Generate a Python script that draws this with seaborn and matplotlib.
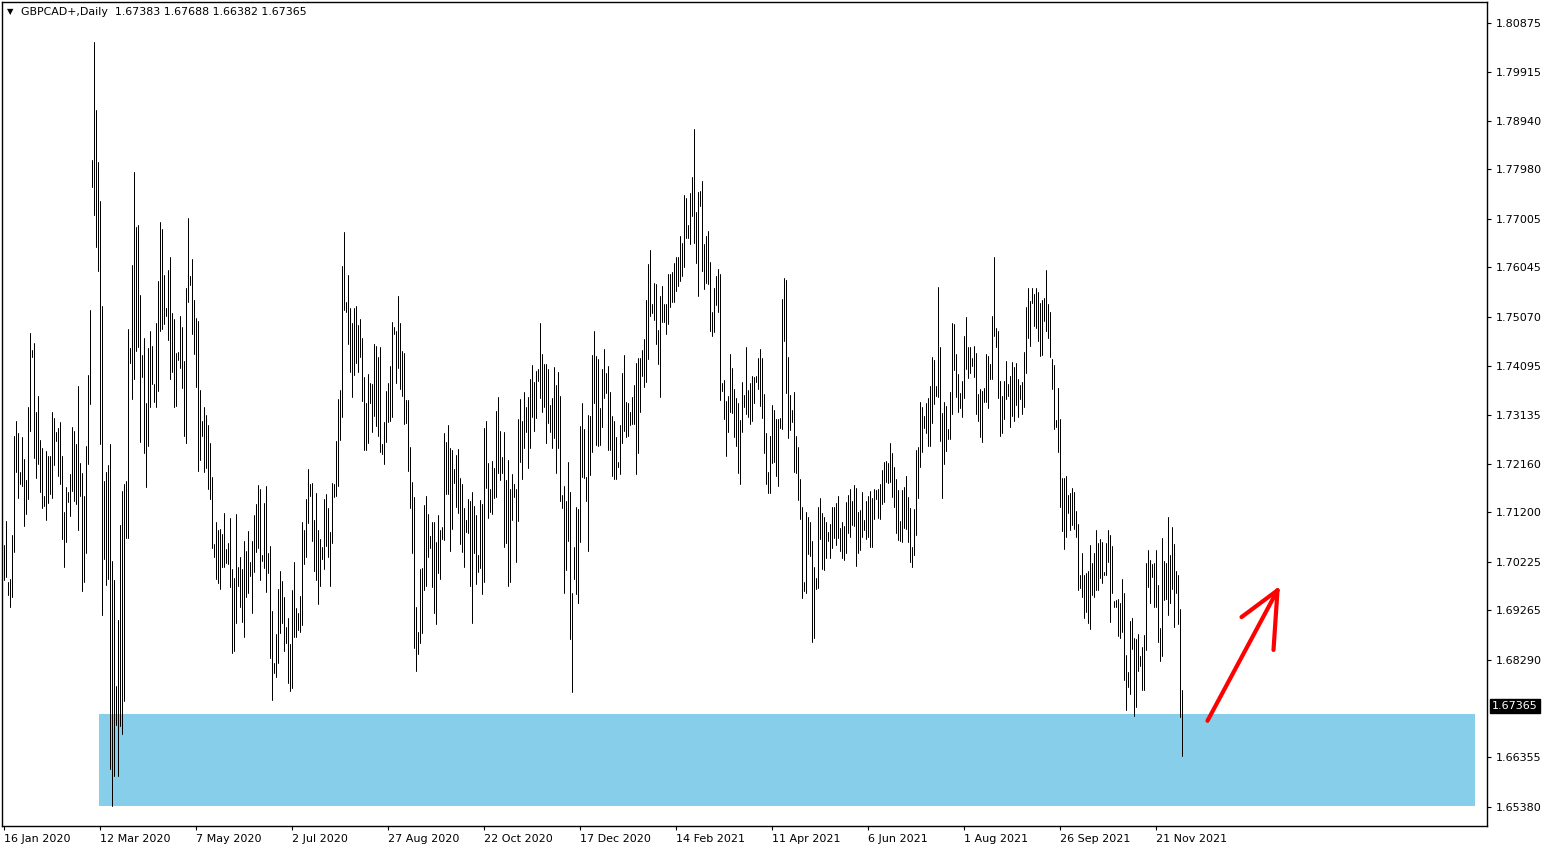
import numpy as np
import pandas as pd
import matplotlib
matplotlib.use("Agg")
import matplotlib.pyplot as plt
import matplotlib.transforms as mtransforms
import seaborn as sns
from matplotlib.patches import Rectangle

# ---------------- data ----------------
highs = [
    1.7056, 1.7103, 1.6982, 1.6988, 1.7075, 1.7271, 1.7300, 1.7277, 1.7200, 1.7269,
    1.7225, 1.7184, 1.7328, 1.7474, 1.7441, 1.7455, 1.7318, 1.7350, 1.7263, 1.7247,
    1.7152, 1.7241, 1.7231, 1.7231, 1.7318, 1.7306, 1.7279, 1.7287, 1.7298, 1.7231,
    1.7121, 1.7170, 1.7160, 1.7196, 1.7289, 1.7281, 1.7255, 1.7370, 1.7217, 1.7198,
    1.7152, 1.7251, 1.7391, 1.7520, 1.7816, 1.8050, 1.7915, 1.7812, 1.7735, 1.7528,
    1.7182, 1.7200, 1.7213, 1.7255, 1.7024, 1.6986, 1.6777, 1.6907, 1.7095, 1.7162,
    1.7176, 1.7182, 1.7482, 1.7445, 1.7609, 1.7793, 1.7684, 1.7688, 1.7549, 1.7431,
    1.7464, 1.7336, 1.7445, 1.7478, 1.7449, 1.7374, 1.7494, 1.7577, 1.7694, 1.7680,
    1.7589, 1.7524, 1.7599, 1.7625, 1.7514, 1.7502, 1.7435, 1.7437, 1.7508, 1.7486,
    1.7419, 1.7563, 1.7702, 1.7587, 1.7621, 1.7540, 1.7504, 1.7498, 1.7362, 1.7300,
    1.7328, 1.7312, 1.7293, 1.7257, 1.7190, 1.7057, 1.7101, 1.7085, 1.7087, 1.7077,
    1.7119, 1.7047, 1.7059, 1.7109, 1.7008, 1.6990, 1.7117, 1.7012, 1.7032, 1.7008,
    1.7063, 1.7044, 1.7083, 1.7022, 1.7063, 1.7115, 1.7136, 1.7174, 1.7166, 1.7036,
    1.7138, 1.7172, 1.7040, 1.7053, 1.6925, 1.6822, 1.6879, 1.6968, 1.7004, 1.6984,
    1.6953, 1.6893, 1.6911, 1.6860, 1.6966, 1.7022, 1.6931, 1.6921, 1.6955, 1.7101,
    1.7085, 1.7146, 1.7206, 1.7176, 1.7178, 1.7105, 1.7158, 1.7085, 1.7067, 1.7051,
    1.7146, 1.7156, 1.7129, 1.7081, 1.7178, 1.7176, 1.7261, 1.7344, 1.7362, 1.7607,
    1.7674, 1.7536, 1.7589, 1.7524, 1.7494, 1.7524, 1.7528, 1.7490, 1.7502, 1.7464,
    1.7387, 1.7336, 1.7393, 1.7376, 1.7374, 1.7453, 1.7449, 1.7427, 1.7447, 1.7255,
    1.7298, 1.7360, 1.7376, 1.7409, 1.7496, 1.7486, 1.7478, 1.7547, 1.7494, 1.7439,
    1.7435, 1.7342, 1.7342, 1.7249, 1.7180, 1.7150, 1.6933, 1.6883, 1.7008, 1.7010,
    1.7134, 1.7152, 1.7117, 1.7073, 1.7101, 1.7101, 1.7061, 1.7115, 1.7085, 1.7091,
    1.7277, 1.7259, 1.7293, 1.7247, 1.7243, 1.7206, 1.7233, 1.7245, 1.7188, 1.7176,
    1.7129, 1.7105, 1.7146, 1.7142, 1.7160, 1.7133, 1.7115, 1.7036, 1.7144, 1.7136,
    1.7287, 1.7300, 1.7217, 1.7166, 1.7221, 1.7208, 1.7320, 1.7348, 1.7281, 1.7229,
    1.7279, 1.7184, 1.7223, 1.7166, 1.7196, 1.7176, 1.7166, 1.7304, 1.7344, 1.7300,
    1.7358, 1.7328, 1.7348, 1.7383, 1.7411, 1.7378, 1.7399, 1.7403, 1.7494, 1.7433,
    1.7413, 1.7413, 1.7403, 1.7332, 1.7346, 1.7407, 1.7372, 1.7397, 1.7350, 1.7154,
    1.7172, 1.7142, 1.7219, 1.7160, 1.6961, 1.7051, 1.7130, 1.7127, 1.7291, 1.7336,
    1.7285, 1.7190, 1.7312, 1.7310, 1.7431, 1.7478, 1.7429, 1.7423, 1.7326, 1.7403,
    1.7443, 1.7395, 1.7409, 1.7358, 1.7310, 1.7300, 1.7269, 1.7219, 1.7293, 1.7395,
    1.7431, 1.7338, 1.7336, 1.7318, 1.7348, 1.7372, 1.7415, 1.7425, 1.7425, 1.7441,
    1.7463, 1.7540, 1.7611, 1.7638, 1.7532, 1.7573, 1.7571, 1.7480, 1.7547, 1.7567,
    1.7532, 1.7532, 1.7591, 1.7591, 1.7595, 1.7613, 1.7625, 1.7625, 1.7666, 1.7652,
    1.7747, 1.7741, 1.7688, 1.7751, 1.7783, 1.7878, 1.7714, 1.7753, 1.7755, 1.7775,
    1.7650, 1.7666, 1.7676, 1.7615, 1.7516, 1.7563, 1.7587, 1.7601, 1.7591, 1.7376,
    1.7382, 1.7340, 1.7350, 1.7433, 1.7405, 1.7364, 1.7346, 1.7336, 1.7302, 1.7378,
    1.7352, 1.7447, 1.7362, 1.7376, 1.7389, 1.7387, 1.7389, 1.7425, 1.7443, 1.7425,
    1.7354, 1.7277, 1.7200, 1.7271, 1.7332, 1.7322, 1.7304, 1.7304, 1.7306, 1.7542,
    1.7583, 1.7579, 1.7427, 1.7352, 1.7322, 1.7358, 1.7271, 1.7249, 1.7186, 1.7130,
    1.6982, 1.7121, 1.7111, 1.7101, 1.7063, 1.7012, 1.6990, 1.7131, 1.7148, 1.7119,
    1.7111, 1.7101, 1.7081, 1.7097, 1.7131, 1.7130, 1.7138, 1.7152, 1.7089, 1.7101,
    1.7093, 1.7140, 1.7154, 1.7166, 1.7142, 1.7174, 1.7168, 1.7121, 1.7125, 1.7160,
    1.7105, 1.7142, 1.7152, 1.7162, 1.7148, 1.7166, 1.7164, 1.7166, 1.7176, 1.7204,
    1.7219, 1.7221, 1.7217, 1.7257, 1.7237, 1.7209, 1.7186, 1.7164, 1.7103, 1.7164,
    1.7170, 1.7192, 1.7150, 1.7129, 1.7051, 1.7127, 1.7243, 1.7249, 1.7338, 1.7328,
    1.7310, 1.7336, 1.7346, 1.7370, 1.7427, 1.7421, 1.7370, 1.7565, 1.7447, 1.7316,
    1.7338, 1.7330, 1.7285, 1.7358, 1.7494, 1.7492, 1.7433, 1.7393, 1.7356, 1.7380,
    1.7468, 1.7506, 1.7447, 1.7447, 1.7425, 1.7449, 1.7435, 1.7354, 1.7364, 1.7360,
    1.7366, 1.7433, 1.7429, 1.7413, 1.7508, 1.7625, 1.7484, 1.7478, 1.7380, 1.7350,
    1.7380, 1.7419, 1.7374, 1.7389, 1.7417, 1.7407, 1.7415, 1.7383, 1.7372, 1.7378,
    1.7437, 1.7526, 1.7563, 1.7538, 1.7563, 1.7551, 1.7563, 1.7555, 1.7534, 1.7540,
    1.7544, 1.7599, 1.7532, 1.7516, 1.7423, 1.7411, 1.7302, 1.7366, 1.7304, 1.7188,
    1.7188, 1.7192, 1.7154, 1.7158, 1.7168, 1.7160, 1.7123, 1.7097, 1.6996, 1.7040,
    1.6996, 1.7000, 1.7004, 1.7056, 1.7020, 1.7040, 1.7085, 1.7059, 1.7067, 1.7061,
    1.7002, 1.7059, 1.7085, 1.7075, 1.7053, 1.6945, 1.6947, 1.6949, 1.6941, 1.6988,
    1.6961, 1.6838, 1.6804, 1.6905, 1.6911, 1.6872, 1.6870, 1.6879, 1.6836, 1.6854,
    1.6878, 1.7020, 1.7045, 1.7026, 1.7018, 1.7020, 1.7045, 1.6976, 1.6891, 1.7069,
    1.7024, 1.7020, 1.7111, 1.7036, 1.7091, 1.7057, 1.7004, 1.6996, 1.6929, 1.67688,
]

lows = [
    1.6986, 1.6992, 1.6957, 1.6933, 1.6953, 1.7042, 1.7200, 1.7148, 1.7176, 1.7172,
    1.7093, 1.7117, 1.7146, 1.7281, 1.7427, 1.7227, 1.7188, 1.7215, 1.7160, 1.7129,
    1.7132, 1.7105, 1.7138, 1.7156, 1.7148, 1.7213, 1.7261, 1.7192, 1.7176, 1.7067,
    1.7012, 1.7061, 1.7140, 1.7113, 1.7162, 1.7142, 1.7136, 1.7085, 1.7152, 1.6964,
    1.6982, 1.7040, 1.7215, 1.7334, 1.7763, 1.7708, 1.7644, 1.7597, 1.7255, 1.6917,
    1.7028, 1.6976, 1.6988, 1.6613, 1.6540, 1.6599, 1.6700, 1.6599, 1.6698, 1.6682,
    1.6747, 1.7069, 1.7069, 1.7415, 1.7344, 1.7383, 1.7439, 1.7447, 1.7259, 1.7387,
    1.7237, 1.7170, 1.7251, 1.7328, 1.7374, 1.7338, 1.7328, 1.7360, 1.7478, 1.7482,
    1.7492, 1.7508, 1.7461, 1.7383, 1.7397, 1.7328, 1.7330, 1.7421, 1.7405, 1.7366,
    1.7271, 1.7257, 1.7536, 1.7569, 1.7472, 1.7433, 1.7368, 1.7202, 1.7223, 1.7271,
    1.7200, 1.7208, 1.7166, 1.7146, 1.7049, 1.7032, 1.6988, 1.6980, 1.6968, 1.7012,
    1.7012, 1.7020, 1.7018, 1.6972, 1.6842, 1.6846, 1.6901, 1.6974, 1.6933, 1.6903,
    1.6874, 1.6953, 1.6961, 1.6994, 1.6921, 1.7002, 1.7042, 1.7049, 1.6986, 1.7024,
    1.7010, 1.6962, 1.7000, 1.6832, 1.6749, 1.6802, 1.6794, 1.6822, 1.6881, 1.6901,
    1.6846, 1.6862, 1.6783, 1.6767, 1.6773, 1.6874, 1.6874, 1.6887, 1.6883, 1.6897,
    1.7018, 1.7032, 1.7099, 1.7152, 1.7063, 1.7004, 1.6986, 1.6939, 1.6974, 1.7028,
    1.7008, 1.7053, 1.7032, 1.6974, 1.7059, 1.7150, 1.7152, 1.7172, 1.7263, 1.7308,
    1.7520, 1.7516, 1.7453, 1.7397, 1.7348, 1.7391, 1.7415, 1.7397, 1.7427, 1.7340,
    1.7243, 1.7243, 1.7257, 1.7336, 1.7279, 1.7310, 1.7291, 1.7271, 1.7239, 1.7235,
    1.7215, 1.7259, 1.7298, 1.7300, 1.7308, 1.7472, 1.7376, 1.7405, 1.7364, 1.7350,
    1.7295, 1.7297, 1.7202, 1.7129, 1.7040, 1.6852, 1.6806, 1.6840, 1.6862, 1.6881,
    1.6966, 1.6974, 1.7032, 1.7049, 1.6972, 1.6921, 1.6899, 1.7000, 1.6988, 1.7067,
    1.7065, 1.7156, 1.7156, 1.7044, 1.7087, 1.7178, 1.7130, 1.7119, 1.7057, 1.7042,
    1.7012, 1.7081, 1.7079, 1.6974, 1.6901, 1.7040, 1.6978, 1.7002, 1.7010, 1.6959,
    1.6982, 1.7168, 1.7109, 1.7121, 1.7117, 1.7148, 1.7150, 1.7198, 1.7184, 1.7198,
    1.7051, 1.7059, 1.6974, 1.6982, 1.7105, 1.7150, 1.7022, 1.7103, 1.7219, 1.7186,
    1.7247, 1.7279, 1.7208, 1.7247, 1.7308, 1.7281, 1.7306, 1.7380, 1.7346, 1.7318,
    1.7328, 1.7257, 1.7297, 1.7279, 1.7247, 1.7267, 1.7198, 1.7247, 1.7142, 1.7129,
    1.6961, 1.7006, 1.7063, 1.6870, 1.6765, 1.6988, 1.6959, 1.6941, 1.7061, 1.7190,
    1.7188, 1.7142, 1.7044, 1.7194, 1.7239, 1.7336, 1.7253, 1.7251, 1.7253, 1.7289,
    1.7346, 1.7356, 1.7243, 1.7243, 1.7192, 1.7186, 1.7186, 1.7209, 1.7196, 1.7257,
    1.7281, 1.7269, 1.7271, 1.7293, 1.7295, 1.7295, 1.7196, 1.7237, 1.7318, 1.7389,
    1.7368, 1.7378, 1.7423, 1.7508, 1.7514, 1.7500, 1.7453, 1.7413, 1.7348, 1.7496,
    1.7496, 1.7472, 1.7492, 1.7526, 1.7536, 1.7536, 1.7557, 1.7567, 1.7577, 1.7587,
    1.7605, 1.7662, 1.7662, 1.7650, 1.7706, 1.7652, 1.7613, 1.7547, 1.7725, 1.7597,
    1.7561, 1.7573, 1.7571, 1.7478, 1.7468, 1.7476, 1.7530, 1.7516, 1.7342, 1.7360,
    1.7304, 1.7231, 1.7279, 1.7318, 1.7316, 1.7269, 1.7251, 1.7198, 1.7176, 1.7279,
    1.7328, 1.7314, 1.7308, 1.7295, 1.7300, 1.7336, 1.7378, 1.7364, 1.7330, 1.7306,
    1.7237, 1.7176, 1.7158, 1.7158, 1.7217, 1.7219, 1.7192, 1.7172, 1.7287, 1.7285,
    1.7459, 1.7356, 1.7267, 1.7283, 1.7298, 1.7200, 1.7198, 1.7144, 1.7107, 1.6951,
    1.6964, 1.6961, 1.7038, 1.7034, 1.6864, 1.6872, 1.6968, 1.6970, 1.7067, 1.7008,
    1.7006, 1.7030, 1.7063, 1.7030, 1.7049, 1.7069, 1.7055, 1.7069, 1.7044, 1.7030,
    1.7026, 1.7040, 1.7079, 1.7071, 1.7095, 1.7093, 1.7014, 1.7040, 1.7046, 1.7071,
    1.7085, 1.7067, 1.7071, 1.7051, 1.7051, 1.7107, 1.7146, 1.7109, 1.7107, 1.7136,
    1.7140, 1.7180, 1.7178, 1.7180, 1.7150, 1.7130, 1.7079, 1.7065, 1.7063, 1.7061,
    1.7089, 1.7087, 1.7061, 1.7022, 1.7012, 1.7036, 1.7075, 1.7148, 1.7209, 1.7239,
    1.7287, 1.7277, 1.7251, 1.7251, 1.7297, 1.7334, 1.7350, 1.7348, 1.7261, 1.7148,
    1.7215, 1.7241, 1.7265, 1.7265, 1.7314, 1.7401, 1.7348, 1.7318, 1.7326, 1.7308,
    1.7346, 1.7403, 1.7385, 1.7395, 1.7409, 1.7387, 1.7314, 1.7300, 1.7269, 1.7259,
    1.7338, 1.7338, 1.7326, 1.7383, 1.7383, 1.7468, 1.7447, 1.7346, 1.7271, 1.7277,
    1.7304, 1.7344, 1.7350, 1.7289, 1.7310, 1.7300, 1.7332, 1.7308, 1.7344, 1.7314,
    1.7328, 1.7395, 1.7464, 1.7449, 1.7534, 1.7488, 1.7484, 1.7459, 1.7429, 1.7431,
    1.7498, 1.7478, 1.7464, 1.7427, 1.7364, 1.7285, 1.7289, 1.7239, 1.7130, 1.7083,
    1.7047, 1.7071, 1.7119, 1.7085, 1.7095, 1.7087, 1.7071, 1.6966, 1.6970, 1.6953,
    1.6911, 1.6923, 1.6901, 1.6889, 1.6957, 1.6953, 1.6966, 1.6966, 1.6990, 1.6980,
    1.6996, 1.6996, 1.7022, 1.6903, 1.6961, 1.6933, 1.6933, 1.6876, 1.6872, 1.6883,
    1.6789, 1.6729, 1.6775, 1.6761, 1.6850, 1.6717, 1.6735, 1.6806, 1.6816, 1.6769,
    1.6769, 1.6848, 1.6972, 1.6941, 1.6992, 1.6933, 1.6933, 1.6864, 1.6826, 1.6836,
    1.6947, 1.6949, 1.6917, 1.6941, 1.6968, 1.6893, 1.6961, 1.6899, 1.6715, 1.66382,
]

x_tick_labels = ["16 Jan 2020", "12 Mar 2020", "7 May 2020", "2 Jul 2020",
                 "27 Aug 2020", "22 Oct 2020", "17 Dec 2020", "14 Feb 2021",
                 "11 Apr 2021", "6 Jun 2021", "1 Aug 2021", "26 Sep 2021",
                 "21 Nov 2021"]
x_tick_bars = [0, 48, 96, 144, 192, 240, 288, 336, 384, 432, 480, 528, 576]

y_ticks = [1.80875, 1.79915, 1.78940, 1.77980, 1.77005, 1.76045, 1.75070,
           1.74095, 1.73135, 1.72160, 1.71200, 1.70225, 1.69265, 1.68290,
           1.66355, 1.65380]

header_text = "GBPCAD+,Daily  1.67383 1.67688 1.66382 1.67365"
last_price = 1.67365

zone_top, zone_bottom = 1.6721, 1.6540
zone_start_bar, zone_end_bar = 47.75, 735.75

arrow_main_x, arrow_main_y = [602, 637], [1.6708, 1.6966]
arrow_barb1_x, arrow_barb1_y = [619, 637], [1.6913, 1.6966]
arrow_barb2_x, arrow_barb2_y = [637, 635], [1.6966, 1.6848]

y_min, y_max = 1.6500, 1.8129
x_min, x_max = -0.75, 741.75

# ---------------- figure ----------------
sns.set_style("white")
plt.rcParams["font.family"] = ["DejaVu Sans"]

W, H = 1550, 850
fig = plt.figure(figsize=(W / 100, H / 100), dpi=100)
fig.patch.set_facecolor("white")
ax = fig.add_axes([2 / W, 1 - 826 / H, 1485 / W, 824 / H])
ax.set_facecolor("white")

n = len(highs)
bar_idx = np.arange(n)
df = pd.DataFrame({
    "bar": np.repeat(bar_idx, 2),
    "price": np.column_stack([lows, highs]).ravel(),
    "unit": np.repeat(bar_idx, 2),
})

# support zone (behind the bars)
ax.add_patch(Rectangle((zone_start_bar, zone_bottom), zone_end_bar - zone_start_bar,
                       zone_top - zone_bottom, facecolor="#87CEEB",
                       edgecolor="none", zorder=0))

sns.lineplot(data=df, x="bar", y="price", units="unit", estimator=None,
             color="black", linewidth=0.72, sort=False, legend=False, ax=ax,
             zorder=2)

# red hand-drawn arrow
for xs, ys in [(arrow_main_x, arrow_main_y), (arrow_barb1_x, arrow_barb1_y),
               (arrow_barb2_x, arrow_barb2_y)]:
    ax.plot(xs, ys, color="#ff0000", linewidth=3.0, solid_capstyle="round",
            zorder=3)

ax.set_xlim(x_min, x_max)
ax.set_ylim(y_min, y_max)
ax.set_xlabel("")
ax.set_ylabel("")

for side in ["left", "right", "top", "bottom"]:
    ax.spines[side].set_visible(True)
    ax.spines[side].set_color("black")
    ax.spines[side].set_linewidth(1.0)

ax.set_xticks(x_tick_bars)
ax.set_xticklabels(x_tick_labels, ha="left")
ax.yaxis.tick_right()
ax.set_yticks(y_ticks)
ax.set_yticklabels([f"{v:.5f}" for v in y_ticks])
ax.tick_params(axis="x", direction="out", length=3, width=0.8, pad=3,
               labelsize=8, colors="black", bottom=True)
ax.tick_params(axis="y", direction="out", length=3, width=0.8, pad=3,
               labelsize=8, colors="black", right=True, left=False)
ax.grid(False)

# current price label
trans = mtransforms.blended_transform_factory(ax.transAxes, ax.transData)
ax.text(1 + 5 / 1485, last_price, f"{last_price:.5f}", transform=trans,
        ha="left", va="center", fontsize=8, color="white",
        bbox=dict(boxstyle="square,pad=0.18", facecolor="black",
                  edgecolor="black"), zorder=5, clip_on=False)

# header
fig.text(7 / W, 1 - 12 / H, "\u25BC", fontsize=6, ha="left", va="center",
         color="black")
fig.text(21 / W, 1 - 12 / H, header_text, fontsize=7.9, ha="left",
         va="center", color="black")

fig.savefig("out.png", dpi=100, facecolor="white")
